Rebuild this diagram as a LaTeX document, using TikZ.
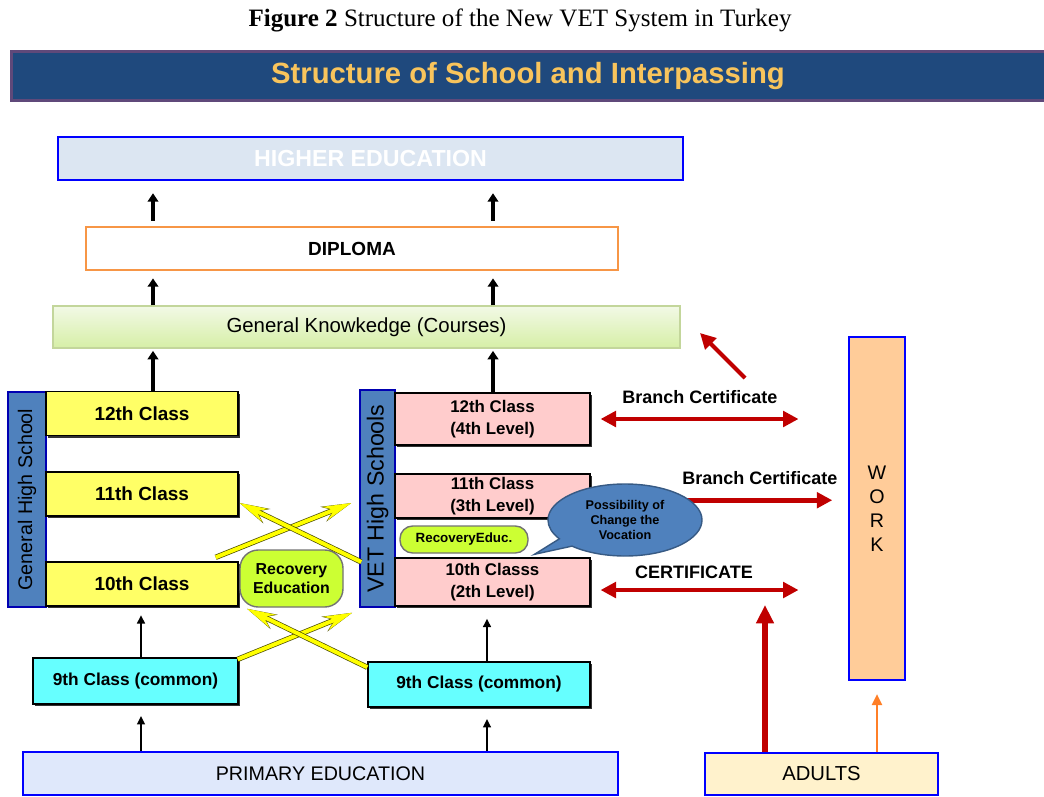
\documentclass[tikz,border=0pt]{standalone}
\usepackage{fontspec}
\setmainfont{Liberation Serif}
\setsansfont{Liberation Sans}
\usetikzlibrary{positioning,arrows.meta,shapes.geometric,shapes.callouts,shadows}

\definecolor{bannerblue}{HTML}{1F497D}
\definecolor{bannerline}{HTML}{5F497A}
\definecolor{titlegold}{HTML}{F8C45C}
\definecolor{higherfill}{HTML}{DCE6F2}
\definecolor{diplomaline}{HTML}{F79646}
\definecolor{gktop}{HTML}{F2F9E6}
\definecolor{gkbot}{HTML}{D6EFA6}
\definecolor{gkline}{HTML}{C3D69B}
\definecolor{barblue}{HTML}{4F81BD}
\definecolor{genyellow}{HTML}{FFFF66}
\definecolor{vetpink}{HTML}{FFCCCC}
\definecolor{ninecyan}{HTML}{66FFFF}
\definecolor{recovgreen}{HTML}{CCFF33}
\definecolor{primfill}{HTML}{DFE8FB}
\definecolor{adultfill}{HTML}{FFF2CC}
\definecolor{workfill}{HTML}{FFCC99}
\definecolor{vetred}{HTML}{C00000}
\definecolor{adultorange}{HTML}{FF7F27}
\definecolor{crossyellow}{HTML}{FFFF00}

\tikzset{
  wh/.style 2 args={minimum width=#1*0.025cm,minimum height=#2*0.025cm},
  bluebox/.style={draw=blue,line width=1.8pt,inner sep=0pt,font=\sffamily},
  cls/.style={draw=black,line width=1pt,inner sep=0pt,align=center,
    drop shadow={shadow xshift=1.3pt,shadow yshift=-1.6pt,fill=black!80,opacity=1}},
  bar/.style={draw=blue!70!black,line width=1pt,fill=barblue,inner sep=0pt,rotate=90},
  up/.style={line width=2.4pt,-{Triangle[length=6pt,width=7.5pt]}},
  upthin/.style={line width=1.5pt,-{Triangle[length=6pt,width=5.5pt]}},
  redarr/.style={draw=vetred,line width=3.4pt,-{Triangle[length=11pt,width=11pt]}},
  redboth/.style={redarr,{Triangle[length=11pt,width=11pt]}-{Triangle[length=11pt,width=11pt]}},
  yarrow/.style={crossyellow,line width=2.8pt,-{Stealth[length=20pt,width=10pt,inset=7pt]},
    preaction={draw=crossyellow!30!black,line width=3.8pt,-{Stealth[length=21pt,width=11pt,inset=7.3pt]}}},
  recov/.style={draw=black!55,line width=1pt,fill=recovgreen,align=center,inner sep=0pt},
  lbl/.style={font=\sffamily\bfseries\fontsize{12.8}{15}\selectfont}
}

\begin{document}
\begin{tikzpicture}[x=0.025cm,y=-0.025cm]
  \useasboundingbox (0,0) rectangle (1044,796);

  % caption and banner
  \node[font=\fontsize{17.8}{21}\selectfont] (caption) at (520,20)
    {\textbf{Figure 2} Structure of the New VET System in Turkey};
  \node[fill=bannerblue,wh={1032}{48},inner sep=0pt,text=titlegold,
    font=\sffamily\bfseries\fontsize{20.8}{24}\selectfont] (title) at (528,76)
    {Structure of School and Interpassing};
  \draw[bannerline,line width=2.5pt] (title.north east) -- (title.north west)
    -- (title.south west) -- (title.south east);

  % top of the ladder
  \node[bluebox,fill=higherfill,wh={625}{43},text=white,
    font=\sffamily\bfseries\fontsize{16.5}{20}\selectfont] (higher) at (370.5,158.5) {HIGHER EDUCATION};
  \node[draw=diplomaline,line width=1.8pt,wh={532}{43},inner sep=0pt,
    font=\sffamily\bfseries\fontsize{13.5}{16}\selectfont] (diploma) at (352,248.5) {DIPLOMA};
  \node[draw=gkline,line width=1pt,top color=gktop,bottom color=gkbot,wh={627}{42},inner sep=0pt,
    font=\sffamily\fontsize{14.5}{17}\selectfont] (gk) at (366.5,327) {General Knowkedge (Courses)};

  % general high school
  \node[bar,wh={215}{38},font=\sffamily\fontsize{14}{16}\selectfont] (genbar) at (27,499.5) {General High School};
  \begin{scope}[every node/.append style={cls,fill=genyellow,wh={192}{44},
      font=\sffamily\bfseries\fontsize{13.5}{16}\selectfont}]
    \node (gen12) at (142,413.5) {12th Class};
    \node (gen11) at (142,494) {11th Class};
    \node (gen10) at (142,584) {10th Class};
  \end{scope}

  % vet high schools
  \node[bar,wh={217}{35},font=\sffamily\fontsize{16.5}{18}\selectfont] (vetbar) at (377.5,498.5) {VET High Schools};
  \begin{scope}[every node/.append style={cls,fill=vetpink,minimum width=195*0.025cm,
      font=\sffamily\bfseries\fontsize{12}{15.5}\selectfont}]
    \node[minimum height=52*0.025cm] (vet12) at (492.5,419) {12th Class\\(4th Level)};
    \node[minimum height=44*0.025cm] (vet11) at (492.5,496) {11th Class\\(3th Level)};
    \node[minimum height=48*0.025cm] (vet10) at (492.5,582) {10th Classs\\(2th Level)};
  \end{scope}

  \node[recov,wh={103}{57},rounded corners=13pt,
    font=\sffamily\bfseries\fontsize{11.3}{14}\selectfont] (recov) at (291.5,578.5) {Recovery\\Education};
  \node[recov,wh={128}{27},rounded corners=9pt,
    font=\sffamily\bfseries\fontsize{9.5}{11}\selectfont] (recsmall) at (464,539.5) {RecoveryEduc.};

  % ninth classes and the entries
  \node[cls,fill=ninecyan,wh={205}{46},font=\sffamily\bfseries\fontsize{12.3}{15}\selectfont] (nine1) at (135.5,681) {9th Class (common)};
  \node[cls,fill=ninecyan,wh={222}{45},font=\sffamily\bfseries\fontsize{12.3}{15}\selectfont] (nine2) at (479,684.5) {9th Class (common)};
  \node[bluebox,fill=primfill,wh={595}{43},font=\sffamily\fontsize{14}{17}\selectfont] (primary) at (320.5,773.5) {PRIMARY EDUCATION};
  \node[bluebox,fill=adultfill,wh={233}{42},font=\sffamily\fontsize{14.4}{17}\selectfont] (adults) at (821.5,774) {ADULTS};
  \node[bluebox,fill=workfill,wh={56}{343},align=center,font=\sffamily\fontsize{14}{17}\selectfont] (work) at (877,508.5) {W\\O\\R\\K};

  % black arrows up the ladder
  \coordinate (colL) at (153,0);
  \coordinate (colR) at (493,0);
  \foreach \c in {colL,colR}{
    \draw[up,shorten <=3.5pt,shorten >=8.5pt] (diploma.north -| \c) -- (higher.south -| \c);
    \draw[up,shorten >=5pt] (gk.north -| \c) -- (diploma.south -| \c);
  }
  \draw[up,shorten >=1.5pt] (gen12.north -| colL) -- (gk.south -| colL);
  \draw[up,shorten >=1.5pt] (vet12.north -| colR) -- (gk.south -| colR);

  \coordinate (lowL) at (141,0);
  \coordinate (lowR) at (487,0);
  \draw[upthin,shorten >=6pt] (nine1.north -| lowL) -- (gen10.south -| lowL);
  \draw[upthin,shorten >=8.5pt] (nine2.north -| lowR) -- (vet10.south -| lowR);
  \draw[upthin,shorten >=8pt] (primary.north -| lowL) -- (nine1.south -| lowL);
  \draw[upthin,shorten >=8pt] (primary.north -| lowR) -- (nine2.south -| lowR);

  % passing between the schools
  \draw[yarrow] ([shift={(-23,-4)}]gen10.north east) -- ([shift={(-8,4.5)}]vetbar.north);
  \draw[yarrow] ([shift={(2,63.5)}]vetbar.north) -- ([shift={(1,9)}]gen11.east);
  \draw[yarrow] ([shift={(-1,2)}]nine1.north east) -- ([shift={(-7,5)}]vetbar.north west);
  \draw[yarrow] ([shift={(0,6)}]nine2.north west) -- ([shift={(-44.5,1)}]recov.south);

  % certificates and work
  \draw[redboth,shorten <=7pt,shorten >=35pt] (vet12.east) -- (vet12.east -| work.west);
  \node[lbl] (bc1) at (700,397) {Branch Certificate};
  \draw[redarr,shorten >=11pt] ([yshift=-3pt]vet11.east) -- ([yshift=-3pt]vet11.east -| work.west);
  \node[lbl] (bc2) at (760,478) {Branch Certificate};
  \draw[redboth,shorten <=7pt,shorten >=35pt] ([yshift=-5.7pt]vet10.east) -- ([yshift=-5.7pt]vet10.east -| work.west);
  \node[lbl] (cert) at (694,572) {CERTIFICATE};

  \coordinate (diagtail) at (745,378);
  \draw[redarr,line width=3pt] (diagtail) -- ++(-45,-45);
  \coordinate (adultup) at (765,605);
  \draw[redarr,line width=3.8pt,-{Triangle[length=13pt,width=12pt]}] (adults.north -| adultup) -- (adultup);
  \draw[adultorange,line width=2pt,-{Triangle[length=8pt,width=7pt]},shorten >=9pt] (adults.north -| work) -- (work.south);

  \node[ellipse callout,draw=barblue!70!black,line width=1pt,fill=barblue,wh={154}{72},inner sep=0pt,
    callout absolute pointer={([shift={(42,-3)}]vet10.north)},align=center,
    font=\sffamily\bfseries\fontsize{9}{10.5}\selectfont] (bubble) at (625,520)
    {Possibility of\\Change the\\Vocation};
\end{tikzpicture}
\end{document}
